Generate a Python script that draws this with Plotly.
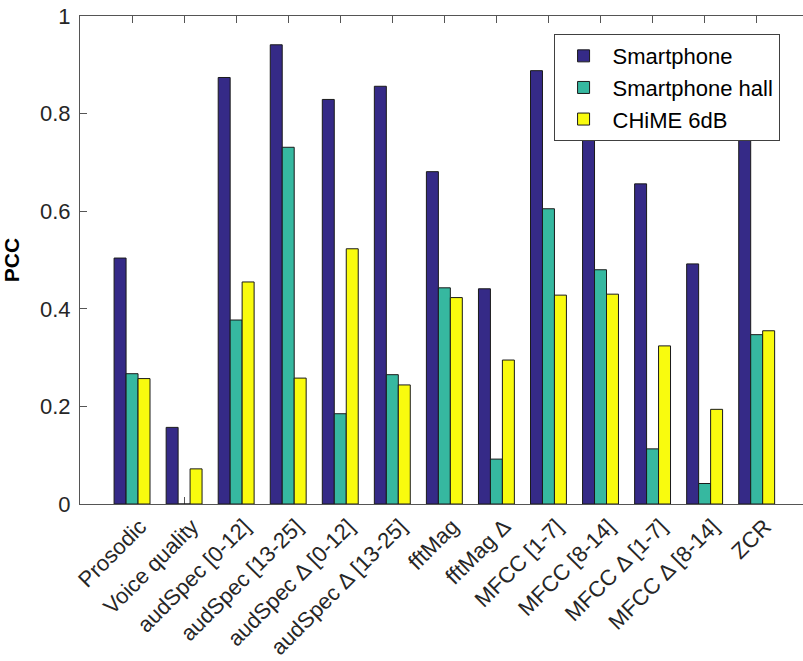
import plotly.graph_objects as go

categories = ["Prosodic", "Voice quality", "audSpec [0-12]", "audSpec [13-25]",
              "audSpec Δ [0-12]", "audSpec Δ [13-25]", "fftMag", "fftMag Δ",
              "MFCC [1-7]", "MFCC [8-14]", "MFCC Δ [1-7]", "MFCC Δ [8-14]", "ZCR"]
smartphone = [0.504, 0.157, 0.874, 0.941, 0.829, 0.856, 0.681, 0.441, 0.888, 0.80, 0.656, 0.492, 0.757]
smartphone_hall = [0.267, 0.0, 0.377, 0.731, 0.185, 0.265, 0.443, 0.092, 0.605, 0.480, 0.113, 0.042, 0.347]
chime_6db = [0.257, 0.072, 0.455, 0.258, 0.523, 0.244, 0.423, 0.295, 0.428, 0.430, 0.324, 0.194, 0.355]
series_names = ["Smartphone", "Smartphone hall", "CHiME 6dB"]
series_colors = ["#352a87", "#36b8a0", "#f9fb0e"]
y_ticks = [0, 0.2, 0.4, 0.6, 0.8, 1]
y_tick_labels = ["0", "0.2", "0.4", "0.6", "0.8", "1"]

positions = list(range(1, len(categories) + 1))
fig = go.Figure()
for name, vals, col in zip(series_names, [smartphone, smartphone_hall, chime_6db], series_colors):
    fig.add_trace(go.Bar(x=positions, y=vals, name=name,
                         marker=dict(color=col, line=dict(color="#1a1a1a", width=1))))

font_family = "Liberation Sans, Arial, sans-serif"
fig.update_layout(
    width=803, height=661, autosize=False,
    margin=dict(l=80, r=0, t=16, b=157, pad=0),
    plot_bgcolor="white", paper_bgcolor="white",
    barmode="group", bargap=0.31, bargroupgap=0,
    font=dict(family=font_family, size=22, color="#262626"),
    showlegend=True,
    legend=dict(x=0.655, y=0.963, xanchor="left", yanchor="top",
                bgcolor="white", bordercolor="#404040", borderwidth=1,
                itemwidth=48,
                font=dict(size=22, color="#000000"), tracegroupgap=0),
    xaxis=dict(range=[0, 13.89], tickvals=positions, ticktext=categories,
               tickangle=-45, ticks="inside", ticklen=7, tickcolor="#555",
               showline=True, linecolor="#555", linewidth=1, mirror="ticks",
               showgrid=False, zeroline=False, layer="below traces", automargin=False,
               ticklabeloverflow="allow", ticklabelshift=8,
               tickfont=dict(size=22, color="#262626")),
    yaxis=dict(range=[0, 1], tickvals=y_ticks, ticktext=y_tick_labels,
               ticks="inside", ticklen=7, tickcolor="#555",
               showline=True, linecolor="#555", linewidth=1,
               showgrid=False, zeroline=False, automargin=False,
               ticklabeloverflow="allow", ticklabelstandoff=4,
               title=dict(text="<b>PCC</b>", font=dict(size=21, color="#000000"), standoff=14),
               tickfont=dict(size=22, color="#262626")),
)

fig.write_html(
    "out.html",
    config={"displayModeBar": False},
    post_script="document.body.style.margin='0';document.body.style.overflow='hidden';",
)
